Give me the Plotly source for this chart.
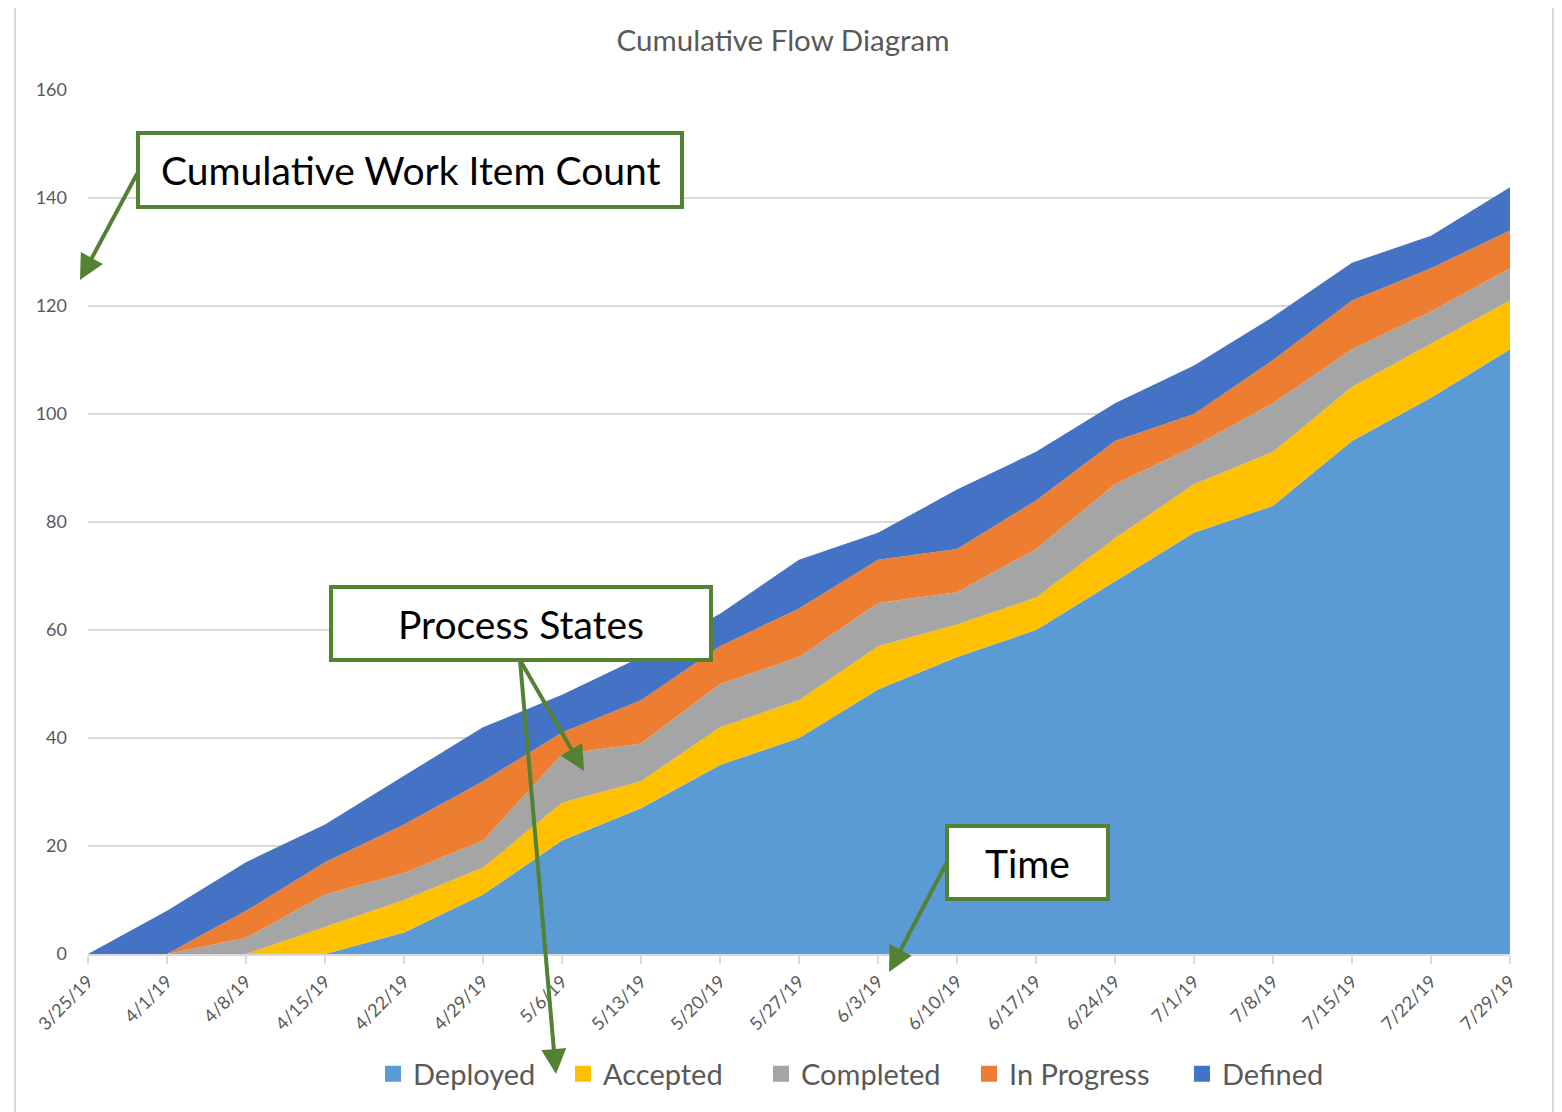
import plotly.graph_objects as go

# ---------------- data ----------------
dates = ["3/25/19", "4/1/19", "4/8/19", "4/15/19", "4/22/19", "4/29/19", "5/6/19",
         "5/13/19", "5/20/19", "5/27/19", "6/3/19", "6/10/19", "6/17/19", "6/24/19",
         "7/1/19", "7/8/19", "7/15/19", "7/22/19", "7/29/19"]

deployed    = [0, 0, 0, 0, 4, 11, 21, 27, 35, 40, 49, 55, 60, 69, 78, 83, 95, 103, 112]
accepted    = [0, 0, 0, 5, 6, 5, 7, 5, 7, 7, 8, 6, 6, 8, 9, 10, 10, 10, 9]
completed   = [0, 0, 3, 6, 5, 5, 9, 7, 8, 8, 8, 6, 9, 10, 7, 9, 7, 6, 6]
in_progress = [0, 0, 5, 6, 9, 11, 4, 8, 7, 9, 8, 8, 9, 8, 6, 8, 9, 8, 7]
defined     = [0, 8, 9, 7, 9, 10, 7, 8, 6, 9, 5, 11, 9, 7, 9, 8, 7, 6, 8]

series_names = ["Deployed", "Accepted", "Completed", "In Progress", "Defined"]
series_values = [deployed, accepted, completed, in_progress, defined]
series_colors = ["#5B9BD5", "#FFC000", "#A5A5A5", "#ED7D31", "#4472C4"]

y_ticks = [0, 20, 40, 60, 80, 100, 120, 140, 160]

title_text = "Cumulative Flow Diagram"
callouts = ["Cumulative Work Item Count", "Process States", "Time"]

# ---------------- layout helpers ----------------
OFF = 8                      # default page body margin
W, H = 1562 - OFF, 1112 - OFF
PL, PR, PT, PB = 88, 1510, 90, 954   # plot area in page pixels
FONT = "Lato"
GREEN = "#548235"
GRAY_TXT = "#595959"


def px(x):
    return (x - PL) / (PR - PL)


def py(y):
    return (PB - y) / (PB - PT)


fig = go.Figure()
for name, vals, col in zip(series_names, series_values, series_colors):
    fig.add_trace(go.Scatter(
        x=dates, y=vals, name=name, mode="lines",
        stackgroup="cfd", line=dict(width=0, color=col),
        fillcolor=col, hoverinfo="x+y+name", showlegend=False,
    ))

# square legend keys, each in its own legend box so spacing matches
legend_left = [385, 575, 773, 981, 1194]   # left edge of each key square (page px)
legend_ids = ["legend", "legend2", "legend3", "legend4", "legend5"]
legend_layout = {}
for name, col, lid, lx in zip(series_names, series_colors, legend_ids, legend_left):
    fig.add_trace(go.Scatter(
        x=[None], y=[None], name=name, mode="markers", legend=lid,
        marker=dict(symbol="square", size=16, color=col), showlegend=True,
    ))
    legend_layout[lid] = dict(
        orientation="h", x=px(lx - 12), xanchor="left",
        y=py(1074), yanchor="middle",
        font=dict(family=FONT, size=29, color=GRAY_TXT),
        itemwidth=30, bgcolor="rgba(0,0,0,0)", borderwidth=0)

shapes = []
annotations = []

# outer chart border
shapes.append(dict(type="rect", xref="paper", yref="paper",
                   x0=px(15), x1=px(1553), y0=py(6), y1=py(1125),
                   line=dict(color="#D9D9D9", width=2), fillcolor="rgba(0,0,0,0)",
                   layer="below"))

# callout boxes (x0, y0, x1, y1 in page pixels)
boxes = [(138, 133, 682, 207), (331, 587, 711, 660), (947, 826, 1108, 899)]
for (x0, y0, x1, y1), txt in zip(boxes, callouts):
    shapes.append(dict(type="rect", xref="paper", yref="paper",
                       x0=px(x0), x1=px(x1), y0=py(y1), y1=py(y0),
                       line=dict(color=GREEN, width=4), fillcolor="white",
                       layer="above"))
    annotations.append(dict(text=txt, xref="paper", yref="paper",
                            x=px((x0 + x1) / 2), y=py((y0 + y1) / 2),
                            xanchor="center", yanchor="middle", showarrow=False,
                            font=dict(family=FONT, size=39, color="black")))

# arrows: (tail, head) in page pixels
arrows = [((138, 172), (80, 280)),
          ((520, 660), (584, 771)),
          ((520, 660), (556, 1074)),
          ((947, 862), (889, 972))]
for (tx, ty), (hx, hy) in arrows:
    annotations.append(dict(text="", xref="paper", yref="paper",
                            x=px(hx), y=py(hy), ax=tx - hx, ay=ty - hy,
                            axref="pixel", ayref="pixel", showarrow=True,
                            arrowhead=2, arrowsize=1.25, arrowwidth=4,
                            arrowcolor=GREEN, standoff=0, startstandoff=0))

fig.update_layout(
    width=W, height=H,
    margin=dict(l=PL - OFF, r=W - (PR - OFF), t=PT - OFF, b=H - (PB - OFF), pad=0),
    paper_bgcolor="white", plot_bgcolor="white",
    title=dict(text=title_text, xref="container", x=(783 - OFF) / W, xanchor="center",
               yref="container", y=1 - (41 - OFF) / H, yanchor="middle",
               font=dict(family=FONT, size=29.5, color=GRAY_TXT)),
    font=dict(family=FONT, color=GRAY_TXT),
    xaxis=dict(type="category", range=[0, len(dates) - 1],
               tickangle=-45, tickfont=dict(size=18, color=GRAY_TXT),
               showgrid=False, showline=True, linecolor="#D9D9D9", linewidth=2,
               ticks="outside", ticklen=8, tickcolor="#D9D9D9", tickwidth=1.5,
               zeroline=False),
    yaxis=dict(range=[0, 160], tickvals=y_ticks, showgrid=True,
               gridcolor="#D9D9D9", gridwidth=1.5, zeroline=False,
               showline=False, ticks="", tickfont=dict(size=18, color=GRAY_TXT),
               ticklabelstandoff=20),
    shapes=shapes,
    annotations=annotations,
    showlegend=True,
    **legend_layout,
)

fig.write_html("out.html")
